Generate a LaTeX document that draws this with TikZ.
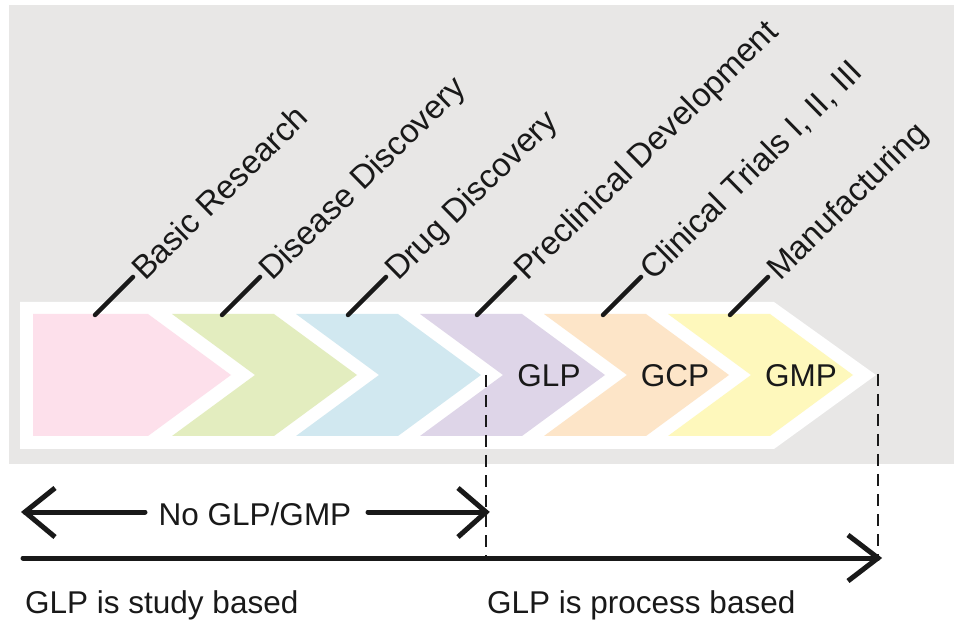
\documentclass[tikz,border=0pt]{standalone}
\usepackage{fontspec}
\setmainfont{Liberation Sans}
\definecolor{bggray}{HTML}{E8E7E6}
\definecolor{cpink}{HTML}{FDE0EB}
\definecolor{cgreen}{HTML}{E3EDBF}
\definecolor{cblue}{HTML}{D1E8F0}
\definecolor{cpurple}{HTML}{DED5E8}
\definecolor{corange}{HTML}{FDE5C8}
\definecolor{cyellow}{HTML}{FEF8BC}
\begin{document}
\begin{tikzpicture}[x=1pt,y=-1pt,
  stageline/.style={line width=4.5pt, line cap=round, black!90},
  stagelabel/.style={anchor=base west, rotate=44.5, inner sep=0pt, font=\fontsize{33}{40}\selectfont, text=black!90},
  gtext/.style={anchor=base, inner sep=0pt, font=\fontsize{31.5}{38}\selectfont, text=black!90},
  thickline/.style={line width=5pt, line cap=round, black!90},
  armline/.style={line width=5pt, line cap=butt, line join=miter, black!90},
  dashguide/.style={line width=2.5pt, black!90, dash pattern=on 12pt off 8pt}]
\useasboundingbox (0,0) rectangle (954,620);
% background
\fill[bggray] (9,5) rectangle (954,464);
\fill[white] (20,302) -- (774,302) -- (876,375) -- (774,449) -- (20,449) -- cycle;
% chevrons
\fill[cpink] (33,314) -- (148,314) -- (231,375) -- (148,436) -- (33,436) -- cycle;
\foreach \tl/\col in {172/cgreen, 296/cblue, 420/cpurple, 544/corange, 668/cyellow}{
  \fill[\col] (\tl,314) -- ({\tl+102},314) -- ({\tl+185},375) -- ({\tl+102},436) -- (\tl,436) -- ({\tl+83},375) -- cycle;
}
% chevron labels
\node[gtext] (glp) at (549,387) {GLP};
\node[gtext] (gcp) at (675,387) {GCP};
\node[gtext] (gmp) at (801,387) {GMP};
% stage ticks and labels
\foreach \x/\nm/\txt in {95/br/Basic Research, 222/dd/Disease Discovery, 348/drd/Drug Discovery, 477/pd/Preclinical Development, 603/ct/{Clinical Trials I, II, III}, 730/mf/Manufacturing}{
  \coordinate (\nm a) at (\x,315);
  \coordinate (\nm b) at ({\x+38},277);
  \draw[stageline] (\nm a) -- (\nm b);
  \node[stagelabel] (\nm) at ({\x+50},282) {\txt};
}
% dashed guides
\coordinate (d1t) at (486,375);
\coordinate (d1b) at (486,559);
\coordinate (d2t) at (878,374);
\coordinate (d2b) at (878,558);
\draw[dashguide] (d1t) -- (d1b);
\draw[dashguide] (d2t) -- (d2b);
% No GLP/GMP double arrow
\node[gtext] (nog) at (255,525) {No GLP/GMP};
\coordinate (la) at (25,512);
\coordinate (lb) at (145,512);
\coordinate (ra) at (368,512);
\coordinate (rb) at (486,512);
\draw[thickline] (lb) -- (la);
\draw[armline] (55,488) -- (la) -- (55,537);
\draw[thickline] (ra) -- (rb);
\draw[armline] (458,488) -- (rb) -- (458,537);
% long arrow
\coordinate (ta) at (23,558);
\coordinate (tb) at (878,558);
\draw[thickline] (ta) -- (tb);
\draw[armline] (848,535) -- (tb) -- (848,581);
% bottom texts
\node[gtext, anchor=base west] (study) at (25,613) {GLP is study based};
\node[gtext, anchor=base west] (process) at (487,613) {GLP is process based};
\end{tikzpicture}
\end{document}
